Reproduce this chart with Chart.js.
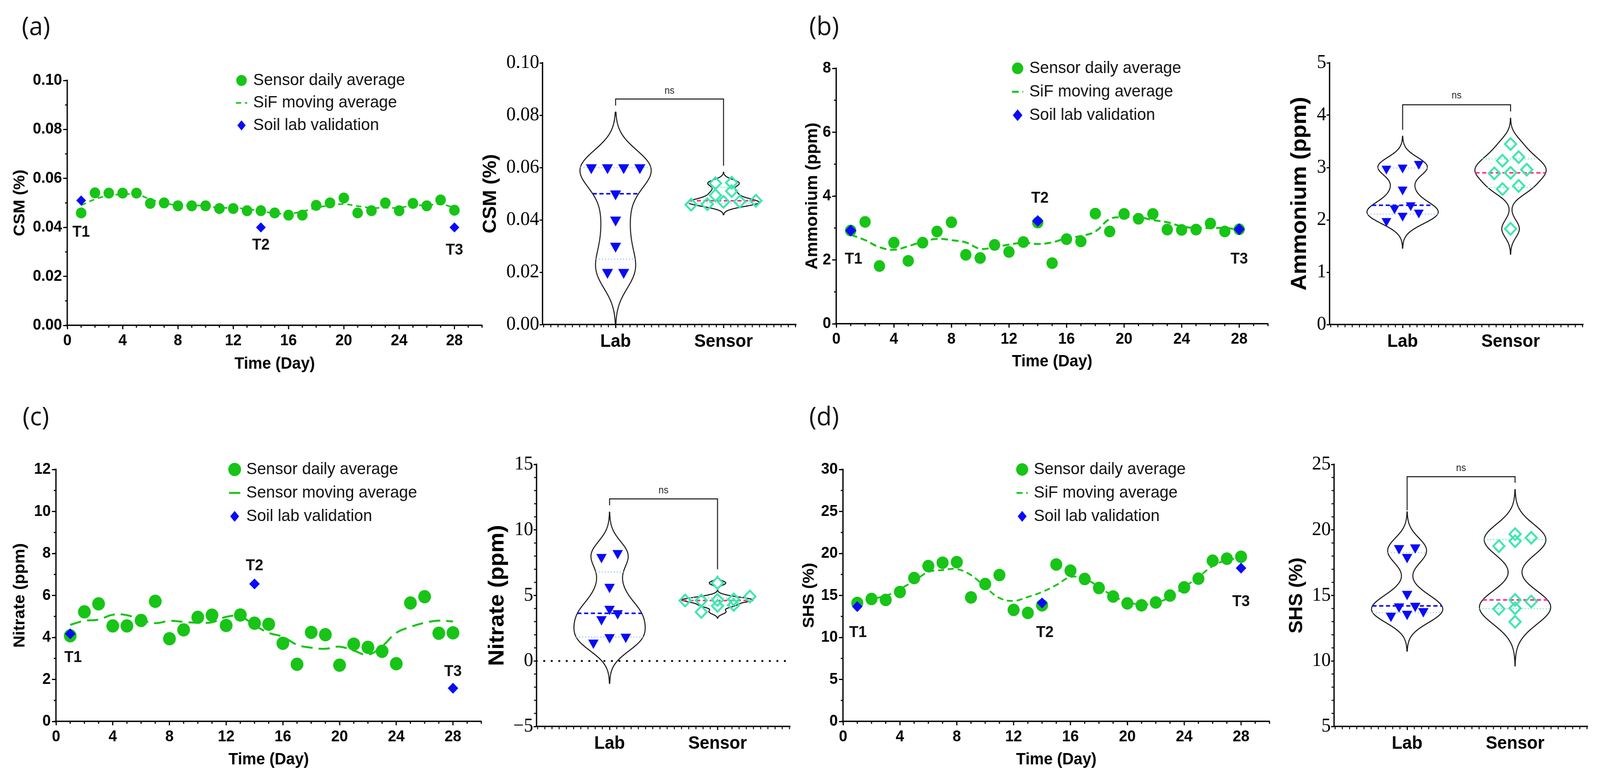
<!DOCTYPE html>
<html>
<head>
<meta charset="utf-8">
<title>Sensor vs lab validation</title>
<script src="https://cdn.jsdelivr.net/npm/chart.js@4.4.1/dist/chart.umd.min.js"></script>
<style>
  html, body { margin: 0; padding: 0; background: #fff; }
  body { width: 100vw; height: 100vh; position: relative; overflow: hidden; }
  #fig { position: absolute; left: 0; top: 0; width: 4255px; height: 1997px; transform-origin: 0 0; }
  canvas { position: absolute; }
  .tag { position: absolute; font-family: 'Open Sans', 'Noto Sans', sans-serif; font-size: 66px; line-height: 1; color: #111; }
</style>
</head>
<body>
<div id="fig">
  <div class="tag" style="left:58px;top:31px">(a)</div>
  <div class="tag" style="left:2152px;top:31px">(b)</div>
  <div class="tag" style="left:60px;top:1030px">(c)</div>
  <div class="tag" style="left:2152px;top:1030px">(d)</div>
</div>
<script>
// ---- data ----
const days = [1, 2, 3, 4, 5, 6, 7, 8, 9, 10, 11, 12, 13, 14, 15, 16, 17, 18, 19, 20, 21, 22, 23, 24, 25, 26, 27, 28];
const dayTicks = [0, 4, 8, 12, 16, 20, 24, 28];
const labDays = [1, 14, 28];
const tNames = ['T1', 'T2', 'T3'];
const groups = ['Lab', 'Sensor'];
const legendSiF = ['Sensor daily average', 'SiF moving average', 'Soil lab validation'];
const legendSensor = ['Sensor daily average', 'Sensor moving average', 'Soil lab validation'];

// (a) CSM
const csmSensor = [0.0459, 0.0541, 0.054, 0.054, 0.054, 0.0498, 0.050, 0.0488, 0.0488, 0.0488, 0.0477, 0.0477, 0.0468, 0.0468, 0.0459, 0.045, 0.045, 0.049, 0.050, 0.052, 0.0459, 0.0468, 0.050, 0.0468, 0.0498, 0.0488, 0.0512, 0.047];
const csmMoving = [0.049, 0.0515, 0.053, 0.0535, 0.0535, 0.0515, 0.050, 0.049, 0.049, 0.0488, 0.048, 0.048, 0.0475, 0.0467, 0.0458, 0.0456, 0.0465, 0.048, 0.049, 0.0495, 0.0487, 0.048, 0.048, 0.048, 0.049, 0.049, 0.0495, 0.048];
const csmLab = [0.051, 0.040, 0.040];
const csmTDay = [1, 14, 28];
const csmTVal = [0.038, 0.0327, 0.0306];
const csmTicks = [0, 0.02, 0.04, 0.06, 0.08, 0.10];
const csmTickLabels = ['0.00', '0.02', '0.04', '0.06', '0.08', '0.10'];
const csmViolinLab = [0.06, 0.06, 0.06, 0.06, 0.05, 0.04, 0.03, 0.02, 0.02];
const csmViolinSensor = [0.054, 0.0542, 0.051, 0.0494, 0.046, 0.047, 0.0469, 0.0458, 0.0473];
const csmBracket = [0.0862, 0.0837, 0.0607, 0.0893];

// (b) Ammonium
const nh4Sensor = [2.92, 3.19, 1.81, 2.54, 1.97, 2.54, 2.89, 3.18, 2.16, 2.06, 2.47, 2.25, 2.56, 3.17, 1.90, 2.65, 2.58, 3.45, 2.89, 3.44, 3.29, 3.44, 2.95, 2.94, 2.95, 3.14, 2.89, 2.96];
const nh4Moving = [2.79, 2.62, 2.4, 2.32, 2.43, 2.57, 2.66, 2.62, 2.55, 2.35, 2.4, 2.48, 2.54, 2.5, 2.55, 2.68, 2.75, 2.89, 3.28, 3.34, 3.34, 3.25, 3.18, 3.05, 3.0, 3.0, 3.0, 2.95];
const nh4Lab = [2.92, 3.22, 2.96];
const nh4TDay = [1.2, 14.15, 28];
const nh4TVal = [2.02, 3.93, 2.02];
const nh4Ticks = [0, 2, 4, 6, 8];
const nh4ViolinTicks = [0, 1, 2, 3, 4, 5];
const nh4ViolinLab = [3.0, 2.98, 3.07, 2.58, 2.22, 2.28, 2.14, 2.08, 1.98];
const nh4ViolinSensor = [3.45, 3.13, 3.2, 2.96, 2.89, 2.9, 2.59, 2.65, 1.83];
const nh4Bracket = [4.2, 3.72, 4.07, 4.37];

// (c) Nitrate
const no3Sensor = [4.08, 5.22, 5.60, 4.55, 4.55, 4.81, 5.72, 3.94, 4.36, 4.96, 5.06, 4.57, 5.07, 4.68, 4.63, 3.72, 2.72, 4.24, 4.13, 2.68, 3.68, 3.53, 3.34, 2.75, 5.64, 5.94, 4.20, 4.22];
const no3Moving = [4.6, 4.79, 4.85, 5.08, 5.06, 4.84, 4.68, 4.79, 4.74, 4.7, 4.72, 4.98, 5.0, 4.58, 4.22, 4.03, 3.65, 3.51, 3.46, 3.56, 3.37, 3.18, 3.58, 4.22, 4.5, 4.7, 4.8, 4.76];
const no3Lab = [4.17, 6.55, 1.58];
const no3TDay = [1.2, 14, 28];
const no3TVal = [3.04, 7.4, 2.36];
const no3Ticks = [0, 2, 4, 6, 8, 10, 12];
const no3ViolinTicks = [-5, 0, 5, 10, 15];
const no3ViolinTickLabels = ['\u22125', '0', '5', '10', '15'];
const no3ViolinLab = [7.93, 8.23, 5.65, 3.97, 3.64, 3.18, 1.39, 1.84, 1.81];
const no3ViolinSensor = [5.95, 4.61, 4.7, 4.66, 4.92, 4.2, 4.28, 3.74, 4.61];
const no3Bracket = [12.37, 11.88, 7.0, 13.0];

// (d) SHS
const shsSensor = [14.11, 14.58, 14.47, 15.41, 17.07, 18.50, 18.90, 18.97, 14.77, 16.36, 17.43, 13.28, 12.92, 13.83, 18.69, 17.95, 16.96, 15.89, 14.87, 14.06, 13.83, 14.16, 14.99, 15.96, 17.0, 19.14, 19.38, 19.61];
const shsMoving = [13.99, 14.58, 14.94, 15.77, 16.72, 17.79, 18.02, 18.14, 17.43, 16.0, 14.7, 14.35, 14.82, 15.41, 16.24, 17.19, 17.0, 16.0, 14.94, 14.23, 13.92, 14.11, 14.82, 16.0, 17.19, 18.5, 19.21, 19.45];
const shsLab = [13.68, 14.11, 18.26];
const shsTDay = [1.05, 14.2, 28];
const shsTVal = [10.55, 10.55, 14.23];
const shsTicks = [0, 5, 10, 15, 20, 25, 30];
const shsViolinTicks = [5, 10, 15, 20, 25];
const shsViolinLab = [18.66, 18.61, 17.93, 15.11, 14.16, 14.2, 13.44, 13.59, 13.79];
const shsViolinSensor = [19.68, 19.14, 19.4, 18.76, 14.54, 14.66, 13.97, 14.02, 12.99];
const shsBracket = [24.06, 21.5, 23.6, 24.7];

// ---- styling ----
const GREEN = '#17c417', BLUE = '#0a0af5', TEAL = '#3fe6ad', PINK = '#ff2f86';
const LIGHTBLUE = '#a9c9ff', LIGHTTEAL = '#7ce9c8';
const SANS = "'Liberation Sans', Arial, sans-serif";
const SERIF = "'Liberation Serif', 'Times New Roman', serif";
const VMIN = 0.324, VMAX = 2.672, HALF = 0.33, SWARM_DX = 0.15, SWARM_PX = 22;

// the figure is laid out at 4255x1997; squeeze it into whatever the viewport gives
const fig = document.getElementById('fig');
fig.style.transform = 'scale(' + (window.innerWidth / 4255) + ',' + (window.innerHeight / 1997) + ')';

const minorTicks = {
  id: 'minorTicks',
  afterDraw(chart, args, o) {
    const ctx = chart.ctx, area = chart.chartArea;
    if (!o.x && !o.y) return;
    ctx.save();
    ctx.strokeStyle = '#000';
    ctx.lineWidth = o.width || 3;
    ctx.beginPath();
    if (o.x) {
      const s = chart.scales.x;
      const from = o.xFrom !== undefined ? o.xFrom : s.min;
      const n = Math.floor((s.max - from) / o.x + 1e-6);
      for (let i = 0; i <= n; i++) {
        const px = s.getPixelForValue(from + i * o.x);
        ctx.moveTo(px, area.bottom);
        ctx.lineTo(px, area.bottom + o.len);
      }
    }
    if (o.y) {
      const s = chart.scales.y;
      const n = Math.floor((s.max - s.min) / o.y + 1e-6);
      for (let i = 0; i <= n; i++) {
        const py = s.getPixelForValue(s.min + i * o.y);
        ctx.moveTo(area.left, py);
        ctx.lineTo(area.left - o.len, py);
      }
    }
    ctx.stroke();
    ctx.restore();
  }
};

const notes = {
  id: 'notes',
  afterDatasetsDraw(chart, args, o) {
    const ctx = chart.ctx, xs = chart.scales.x, ys = chart.scales.y;
    ctx.save();
    (o.texts || []).forEach(t => {
      ctx.font = t.font;
      ctx.fillStyle = t.color || '#000';
      ctx.textAlign = 'center';
      ctx.textBaseline = 'middle';
      ctx.fillText(t.text, xs.getPixelForValue(t.x), ys.getPixelForValue(t.y));
    });
    if (o.bracket) {
      const b = o.bracket;
      const x1 = xs.getPixelForValue(1), x2 = xs.getPixelForValue(2);
      ctx.strokeStyle = '#111';
      ctx.lineWidth = 2.5;
      ctx.beginPath();
      ctx.moveTo(x1, ys.getPixelForValue(b[1]));
      ctx.lineTo(x1, ys.getPixelForValue(b[0]));
      ctx.lineTo(x2, ys.getPixelForValue(b[0]));
      ctx.lineTo(x2, ys.getPixelForValue(b[2]));
      ctx.stroke();
    }
    if (o.legend) {
      const L = o.legend;
      const px = xs.getPixelForValue(L.x), py0 = ys.getPixelForValue(L.y);
      L.items.forEach((it, i) => {
        const y = py0 + i * L.gap;
        ctx.fillStyle = it.color;
        ctx.strokeStyle = it.color;
        ctx.beginPath();
        if (it.kind === 'circle') {
          ctx.arc(px, y, it.r, 0, Math.PI * 2);
          ctx.fill();
        } else if (it.kind === 'dash') {
          ctx.lineWidth = it.width;
          ctx.setLineDash(it.dash);
          ctx.moveTo(px - 15, y);
          ctx.lineTo(px + 15, y);
          ctx.stroke();
          ctx.setLineDash([]);
        } else {
          ctx.moveTo(px, y - it.r);
          ctx.lineTo(px + it.r * 0.85, y);
          ctx.lineTo(px, y + it.r);
          ctx.lineTo(px - it.r * 0.85, y);
          ctx.closePath();
          ctx.fill();
        }
        ctx.fillStyle = '#111';
        ctx.font = L.font;
        ctx.textAlign = 'left';
        ctx.textBaseline = 'middle';
        ctx.fillText(L.labels[i], px + 31, y);
      });
    }
    ctx.restore();
  }
};

Chart.register(minorTicks, notes);

function addCanvas(g) {
  const c = document.createElement('canvas');
  c.width = Math.round(g.r - g.l + g.L + g.R);
  c.height = Math.round(g.b - g.t + g.T + g.B);
  c.style.left = (g.l - g.L) + 'px';
  c.style.top = (g.t - g.T) + 'px';
  fig.appendChild(c);
  return c;
}

function axis(o) {
  return {
    type: 'linear', min: o.min, max: o.max, position: o.pos,
    afterBuildTicks: s => { s.ticks = o.ticks.map(v => ({ value: v })); },
    afterFit: s => { if (o.pos === 'left') s.width = o.size; else s.height = o.size; },
    ticks: { color: '#000', font: o.tickFont, padding: o.pad, autoSkip: false, maxRotation: 0,
             callback: (v, i) => o.labels[i] },
    grid: { display: true, drawOnChartArea: false, drawTicks: true, tickLength: o.tickLen,
            tickWidth: 3, tickColor: '#000', color: '#000' },
    border: { display: true, color: '#000', width: 3.5 },
    title: { display: !!o.title, text: o.title, color: '#000', font: o.titleFont, padding: 0 }
  };
}

function timePanel(g, d) {
  const canvas = addCanvas(g);
  new Chart(canvas, {
    type: 'scatter',
    data: {
      datasets: [
        { label: d.legend[2], data: labDays.map((x, i) => ({ x, y: d.lab[i] })),
          pointStyle: 'rectRot', pointRadius: g.diamond, pointBackgroundColor: BLUE, pointBorderWidth: 0, order: 0 },
        { label: d.legend[0], data: days.map((x, i) => ({ x, y: d.sensor[i] })),
          pointStyle: 'circle', pointRadius: g.dot, pointBackgroundColor: GREEN, pointBorderWidth: 0, order: 1 },
        { label: d.legend[1], data: days.map((x, i) => ({ x, y: d.moving[i] })),
          showLine: true, borderColor: GREEN, borderWidth: g.lineW, borderDash: g.dash,
          tension: 0.4, pointRadius: 0, order: 2 }
      ]
    },
    options: {
      responsive: false, animation: false, devicePixelRatio: 1, events: [],
      layout: { padding: { top: g.T, right: g.R, left: 0, bottom: 0 } },
      plugins: {
        legend: { display: false }, tooltip: { enabled: false },
        minorTicks: { x: 1, y: d.yMinor, len: 6, width: 3 },
        notes: {
          texts: tNames.map((t, i) => ({ text: t, x: d.tDay[i], y: d.tVal[i], font: 'bold 40px ' + SANS, color: '#111' })),
          legend: {
            x: 12.6, y: d.yMax, gap: g.gap, font: '43px ' + SANS, labels: d.legend,
            items: [
              { kind: 'circle', color: GREEN, r: g.dot },
              { kind: 'dash', color: GREEN, width: g.lineW, dash: g.dash },
              { kind: 'diamond', color: BLUE, r: g.diamond }
            ]
          }
        }
      },
      scales: {
        x: axis({ min: 0, max: 30, pos: 'bottom', ticks: dayTicks, labels: dayTicks.map(String), size: g.B,
                  tickFont: { family: SANS, size: 40, weight: 'bold' }, pad: 6, tickLen: 10,
                  title: 'Time (Day)', titleFont: { family: SANS, size: 42, weight: 'bold' } }),
        y: axis({ min: d.yMin, max: d.yMax, pos: 'left', ticks: d.ticks, labels: d.tickLabels, size: g.L,
                  tickFont: { family: SANS, size: 40, weight: 'bold' }, pad: 3, tickLen: 11,
                  title: d.title, titleFont: { family: SANS, size: g.yTitleSize, weight: 'bold' } })
      }
    }
  });
}

function violinStats(vals) {
  const s = [...vals].sort((a, b) => a - b), n = s.length;
  const mean = s.reduce((a, b) => a + b, 0) / n;
  const sd = Math.sqrt(s.reduce((a, v) => a + (v - mean) ** 2, 0) / (n - 1));
  const q = p => {
    const pos = (n + 1) * p;
    if (pos <= 1) return s[0];
    if (pos >= n) return s[n - 1];
    const k = Math.floor(pos);
    return s[k - 1] + (pos - k) * (s[k] - s[k - 1]);
  };
  const q1 = q(0.25), med = q(0.5), q3 = q(0.75);
  const bw = 0.63 * Math.min(sd, (q3 - q1) / 1.34) * Math.pow(n, -0.2);
  const dens = y => s.reduce((a, v) => a + Math.exp(-0.5 * ((y - v) / bw) ** 2), 0);
  const lo = s[0] - 3 * bw, hi = s[n - 1] + 3 * bw;
  const ys = [];
  let maxD = 0;
  for (let i = 0; i <= 200; i++) {
    const y = lo + (hi - lo) * i / 200;
    ys.push(y);
    maxD = Math.max(maxD, dens(y));
  }
  return { q1, med, q3, ys, w: y => HALF * dens(y) / maxD };
}

// GraphPad-like column scatter: close values share a row, rows are centred
function swarm(vals, center, thr) {
  const idx = vals.map((v, i) => i).sort((a, b) => vals[a] - vals[b]);
  const out = new Array(vals.length);
  let row = [];
  const flush = () => {
    row.forEach((i, k) => { out[i] = { x: center + (k - (row.length - 1) / 2) * SWARM_DX, y: vals[i] }; });
    row = [];
  };
  idx.forEach(i => {
    if (row.length && vals[i] - vals[row[0]] >= thr) flush();
    row.push(i);
  });
  flush();
  return out;
}

function hline(st, y, color, width, dash, center) {
  const w = st.w(y);
  return { data: [{ x: center - w, y }, { x: center + w, y }], showLine: true, borderColor: color,
           borderWidth: width, borderDash: dash, pointRadius: 0, order: 1 };
}

function violinPanel(g, d) {
  const canvas = addCanvas(g);
  const thr = SWARM_PX * (d.yMax - d.yMin) / (g.b - g.t);
  const sets = [];
  [d.lab, d.sensor].forEach((vals, gi) => {
    const c = gi + 1;
    const st = violinStats(vals);
    const isLab = gi === 0;
    sets.push(isLab
      ? { data: swarm(vals, c, thr), pointStyle: 'triangle', pointRotation: 180, pointRadius: g.tri,
          pointBackgroundColor: BLUE, pointBorderWidth: 0, order: 0 }
      : { data: swarm(vals, c, thr), pointStyle: 'rectRot', pointRadius: 15,
          pointBackgroundColor: 'rgba(0,0,0,0)', pointBorderColor: TEAL, pointBorderWidth: 5, order: 0 });
    sets.push(hline(st, st.med, isLab ? BLUE : PINK, 4, [11, 7], c));
    sets.push(hline(st, st.q1, isLab ? LIGHTBLUE : LIGHTTEAL, 3, [3, 5], c));
    sets.push(hline(st, st.q3, isLab ? LIGHTBLUE : LIGHTTEAL, 3, [3, 5], c));
    const left = st.ys.map(y => ({ x: c - st.w(y), y }));
    const right = st.ys.slice().reverse().map(y => ({ x: c + st.w(y), y }));
    sets.push({ data: left.concat(right), showLine: true, borderColor: '#111', borderWidth: 2.6,
                tension: 0.1, pointRadius: 0, order: 2 });
  });
  if (d.zeroLine) {
    sets.push({ data: [{ x: VMIN, y: 0 }, { x: VMAX, y: 0 }], showLine: true, borderColor: '#000',
                borderWidth: 5, borderDash: [0.5, 19.5], borderCapStyle: 'round', pointRadius: 0, order: 3 });
  }
  new Chart(canvas, {
    type: 'scatter',
    data: { datasets: sets },
    options: {
      responsive: false, animation: false, devicePixelRatio: 1, events: [],
      layout: { padding: { top: g.T, right: g.R, left: 0, bottom: 0 } },
      plugins: {
        legend: { display: false }, tooltip: { enabled: false },
        minorTicks: { x: 1 / 15, xFrom: 1 - Math.floor((1 - VMIN) * 15) / 15, y: d.yMinor, len: 7, width: 2.5 },
        notes: {
          bracket: d.bracket,
          texts: [{ text: 'ns', x: 1.5, y: d.bracket[3], font: '25px ' + SANS, color: '#222' }]
        }
      },
      scales: {
        x: axis({ min: VMIN, max: VMAX, pos: 'bottom', ticks: [1, 2], labels: groups, size: g.B,
                  tickFont: { family: SANS, size: 46, weight: 'bold' }, pad: 8, tickLen: 9 }),
        y: axis({ min: d.yMin, max: d.yMax, pos: 'left', ticks: d.ticks, labels: d.tickLabels, size: g.L,
                  tickFont: { family: SERIF, size: 50 }, pad: 1, tickLen: 8,
                  title: d.title, titleFont: { family: SANS, size: g.yTitleSize, weight: 'bold' } })
      }
    }
  });
}

// ---- panels ----
timePanel({ l: 179, t: 206, r: 1282, b: 833, L: 151, T: 44, R: 20, B: 125, yTitleSize: 42,
            dot: 14, diamond: 13, lineW: 4, dash: [14, 10], gap: 57.5 },
          { sensor: csmSensor, moving: csmMoving, lab: csmLab, tDay: csmTDay, tVal: csmTVal,
            yMin: 0, yMax: 0.1, yMinor: 0.01, ticks: csmTicks, tickLabels: csmTickLabels,
            title: 'CSM (%)', legend: legendSiF });
violinPanel({ l: 1443, t: 161, r: 2117, b: 831, L: 168, T: 44, R: 20, B: 100, yTitleSize: 50, tri: 17 },
            { lab: csmViolinLab, sensor: csmViolinSensor, yMin: 0, yMax: 0.1, ticks: csmTicks,
              tickLabels: csmTickLabels, title: 'CSM (%)', bracket: csmBracket });

timePanel({ l: 2224, t: 175, r: 3372, b: 829, L: 90, T: 44, R: 20, B: 123, yTitleSize: 44,
            dot: 15, diamond: 15, lineW: 5, dash: [18, 10], gap: 60 },
          { sensor: nh4Sensor, moving: nh4Moving, lab: nh4Lab, tDay: nh4TDay, tVal: nh4TVal,
            yMin: 0, yMax: 8, yMinor: 1, ticks: nh4Ticks, tickLabels: nh4Ticks.map(String),
            title: 'Ammonium (ppm)', legend: legendSiF });
violinPanel({ l: 3536, t: 161, r: 4210, b: 831, L: 114, T: 44, R: 20, B: 100, yTitleSize: 58, tri: 15 },
            { lab: nh4ViolinLab, sensor: nh4ViolinSensor, yMin: 0, yMax: 5, ticks: nh4ViolinTicks,
              tickLabels: nh4ViolinTicks.map(String), title: 'Ammonium (ppm)', bracket: nh4Bracket });

timePanel({ l: 149, t: 1202, r: 1280, b: 1847, L: 122, T: 44, R: 20, B: 124, yTitleSize: 43,
            dot: 17, diamond: 14, lineW: 5, dash: [30, 16], gap: 60 },
          { sensor: no3Sensor, moving: no3Moving, lab: no3Lab, tDay: no3TDay, tVal: no3TVal,
            yMin: 0, yMax: 12, yMinor: 1, ticks: no3Ticks, tickLabels: no3Ticks.map(String),
            title: 'Nitrate (ppm)', legend: legendSensor });
violinPanel({ l: 1427, t: 1189, r: 2101, b: 1860, L: 139, T: 44, R: 20, B: 100, yTitleSize: 58, tri: 16 },
            { lab: no3ViolinLab, sensor: no3ViolinSensor, yMin: -5, yMax: 15, yMinor: 1, ticks: no3ViolinTicks,
              tickLabels: no3ViolinTickLabels, title: 'Nitrate (ppm)', bracket: no3Bracket, zeroLine: true });

timePanel({ l: 2242, t: 1202, r: 3376, b: 1847, L: 116, T: 44, R: 20, B: 124, yTitleSize: 43,
            dot: 16, diamond: 14, lineW: 4.5, dash: [16, 10], gap: 60 },
          { sensor: shsSensor, moving: shsMoving, lab: shsLab, tDay: shsTDay, tVal: shsTVal,
            yMin: 0, yMax: 30, yMinor: 2.5, ticks: shsTicks, tickLabels: shsTicks.map(String),
            title: 'SHS (%)', legend: legendSiF });
violinPanel({ l: 3548, t: 1189, r: 4222, b: 1860, L: 129, T: 44, R: 20, B: 100, yTitleSize: 50, tri: 16 },
            { lab: shsViolinLab, sensor: shsViolinSensor, yMin: 5, yMax: 25, yMinor: 1, ticks: shsViolinTicks,
              tickLabels: shsViolinTicks.map(String), title: 'SHS (%)', bracket: shsBracket });
</script>
</body>
</html>
